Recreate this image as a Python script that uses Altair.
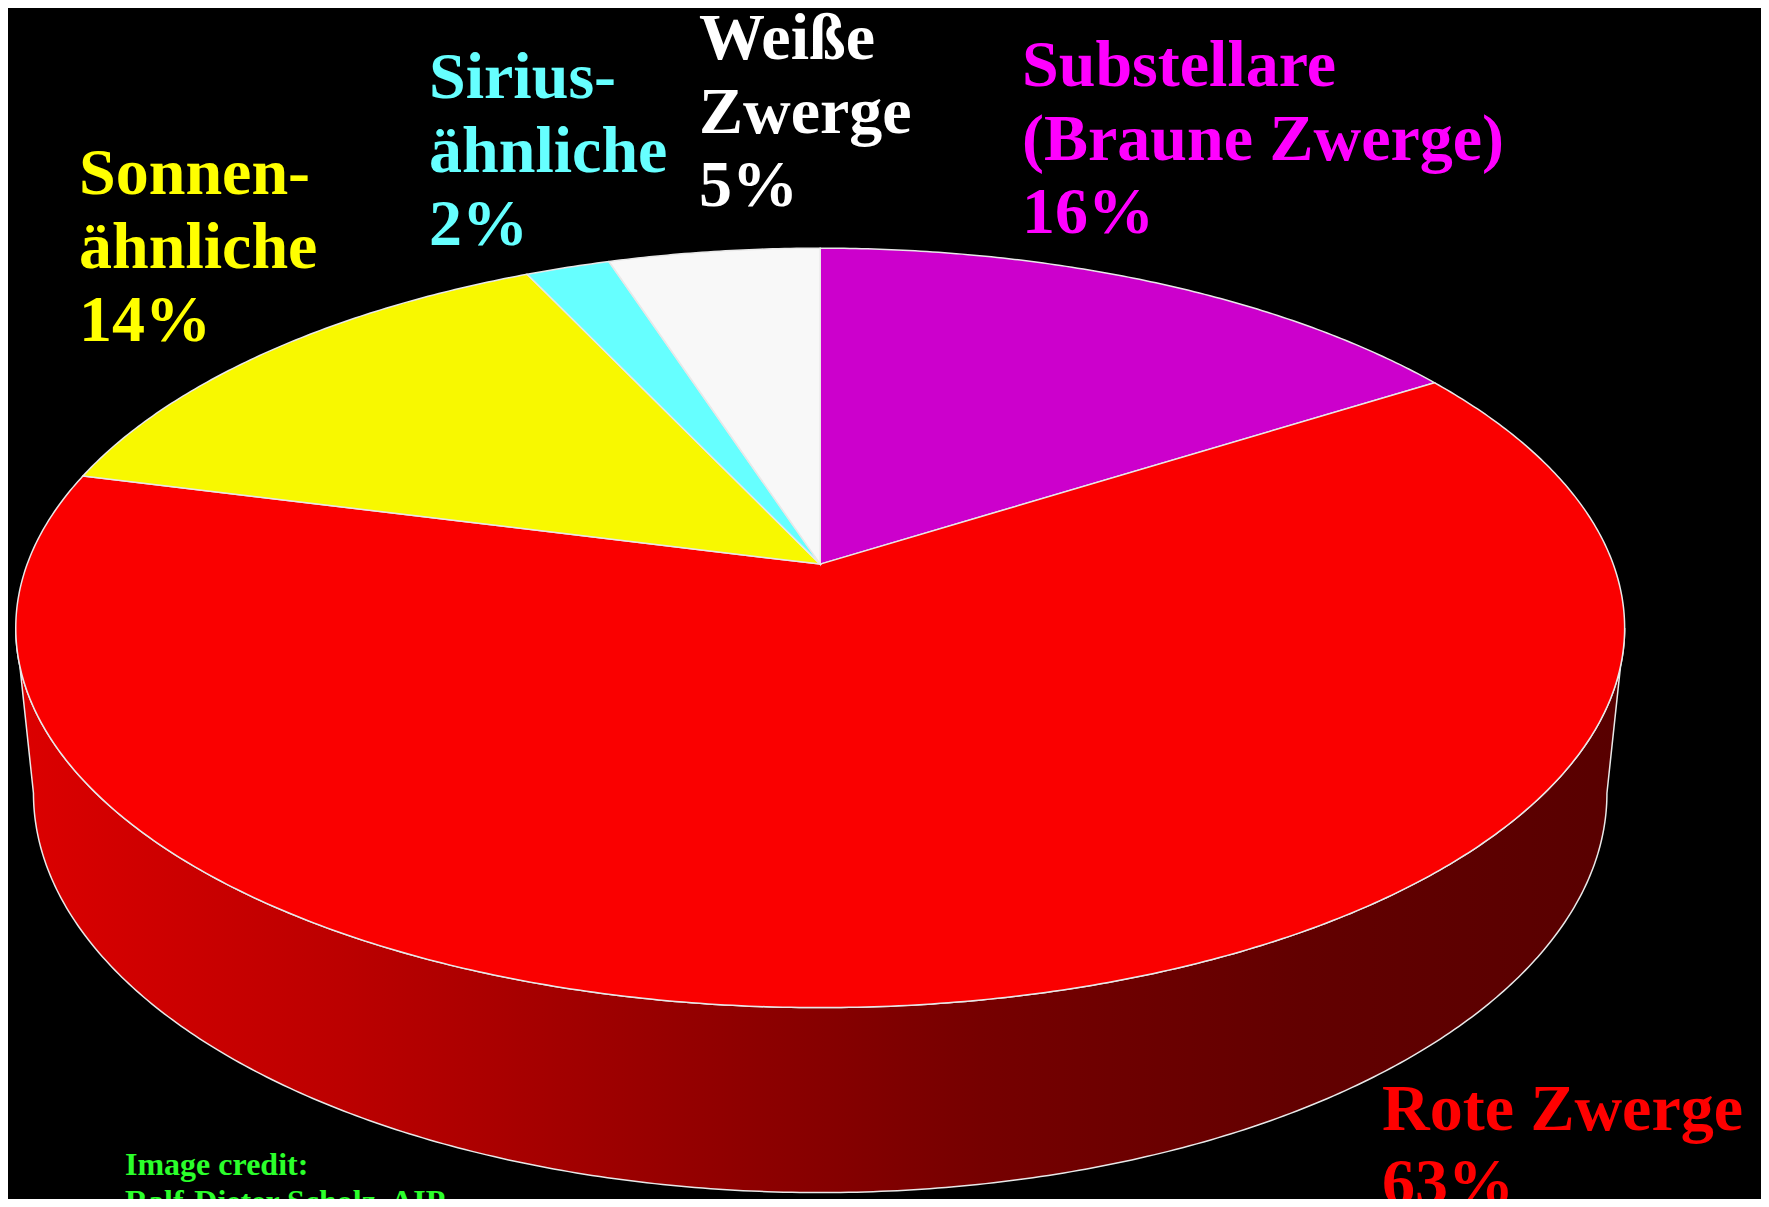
import numpy as np
import altair as alt
import pandas as pd

# ---- data ----
categories = ["Substellare (Braune Zwerge)", "Rote Zwerge", "Sonnenähnliche", "Siriusähnliche", "Weiße Zwerge"]
shares = [16, 63, 14, 2, 5]
label_texts = [
    "Substellare\n(Braune Zwerge)",
    "Rote Zwerge",
    "Sonnen-\nähnliche",
    "Sirius-\nähnliche",
    "Weiße\nZwerge",
]

# ---- styles ----
slice_fill = ["#cc00cc", "#fa0000", "#f8f800", "#66ffff", "#f8f8f8"]
label_color = ["#ff00ff", "#ff0000", "#ffff00", "#66ffff", "#ffffff"]
label_pos = [(1014, 78), (1374, 1122), (71, 186), (421, 90), (691, 51)]
FONT = "Times New Roman, Liberation Serif, serif"

# ---- 3D pie geometry (perspective-projected disc) ----
CX, AY = 812.2, 556.1   # apex of the pie (chart px)
A, B, K = 793.0, 369.0, 0.168
S, H = 0.978, 162.0


def proj(theta_deg, bottom=False):
    th = np.radians(theta_deg)
    u, v = np.sin(th), -np.cos(th)
    w = 1 - K * v
    X, Y = A * u / w, B * v / w
    if bottom:
        return [float(CX + S * X), float(AY + S * Y + H / w)]
    return [float(CX + X), float(AY + Y)]


def arc(t0, t1, bottom=False):
    n = max(2, int(abs(t1 - t0) * 2) + 1)
    return [proj(t, bottom) for t in np.linspace(t0, t1, n)]


total = sum(shares)
features = []
start = 0.0
for cat, val, col in zip(categories, shares, slice_fill):
    end = start + 360.0 * val / total
    ring = [[CX, AY]] + arc(start, end) + [[CX, AY]]
    features.append({"type": "Feature",
                     "geometry": {"type": "Polygon", "coordinates": [ring]},
                     "properties": {"name": cat, "fill": col}})
    start = end

th_r = float(np.degrees(np.arccos(-K)))
th_l = 360.0 - th_r
side_ring = arc(th_r, th_l) + arc(th_l, th_r, bottom=True)
side_ring.append(side_ring[0])
side_feature = {"type": "Feature",
                "geometry": {"type": "Polygon", "coordinates": [side_ring]},
                "properties": {"name": "side"}}

proj_def = dict(type="identity", scale=1, translate=[0, 0])

side = alt.Chart(alt.Data(values=[side_feature])).mark_geoshape(
    fill=alt.Gradient(
        gradient="linear", x1=0, x2=1, y1=0, y2=0,
        stops=[
            alt.GradientStop(offset=0, color="#dc0000"),
            alt.GradientStop(offset=0.2, color="#bc0000"),
            alt.GradientStop(offset=0.42, color="#940000"),
            alt.GradientStop(offset=0.6, color="#760000"),
            alt.GradientStop(offset=0.8, color="#620000"),
            alt.GradientStop(offset=1, color="#580000"),
        ],
    ),
    stroke="#e8e8e8", strokeWidth=1.5,
).project(**proj_def)

top = alt.Chart(alt.Data(values=features)).mark_geoshape(
    stroke="#e8e8e8", strokeWidth=1.5
).encode(fill=alt.Fill("properties.fill:N", scale=None)).project(**proj_def)

labels = pd.DataFrame({
    "text": [f"{t}\n{v}%" for t, v in zip(label_texts, shares)],
    "x": [p[0] for p in label_pos],
    "y": [p[1] for p in label_pos],
    "color": label_color,
})

text = alt.Chart(labels).mark_text(
    align="left", baseline="alphabetic", font=FONT,
    fontWeight="bold", fontSize=66, lineBreak="\n", lineHeight=73.5,
).encode(
    x=alt.X("x:Q", scale=None, axis=None),
    y=alt.Y("y:Q", scale=None, axis=None),
    text="text:N",
    color=alt.Color("color:N", scale=None),
)

credit = pd.DataFrame({"text": ["Image credit:\nRalf-Dieter Scholz, AIP"], "x": [117], "y": [1167]})
credit_text = alt.Chart(credit).mark_text(
    align="left", baseline="alphabetic", font=FONT,
    fontWeight="bold", fontSize=32, lineBreak="\n", lineHeight=37, color="#2bff2b",
).encode(
    x=alt.X("x:Q", scale=None, axis=None),
    y=alt.Y("y:Q", scale=None, axis=None),
    text="text:N",
)

chart = alt.layer(side, top, text, credit_text).properties(
    width=1753, height=1191, autosize="none", padding=0, background="black"
).configure_view(stroke=None)

chart.save("out.html", embed_options={"renderer": "svg", "actions": False})
